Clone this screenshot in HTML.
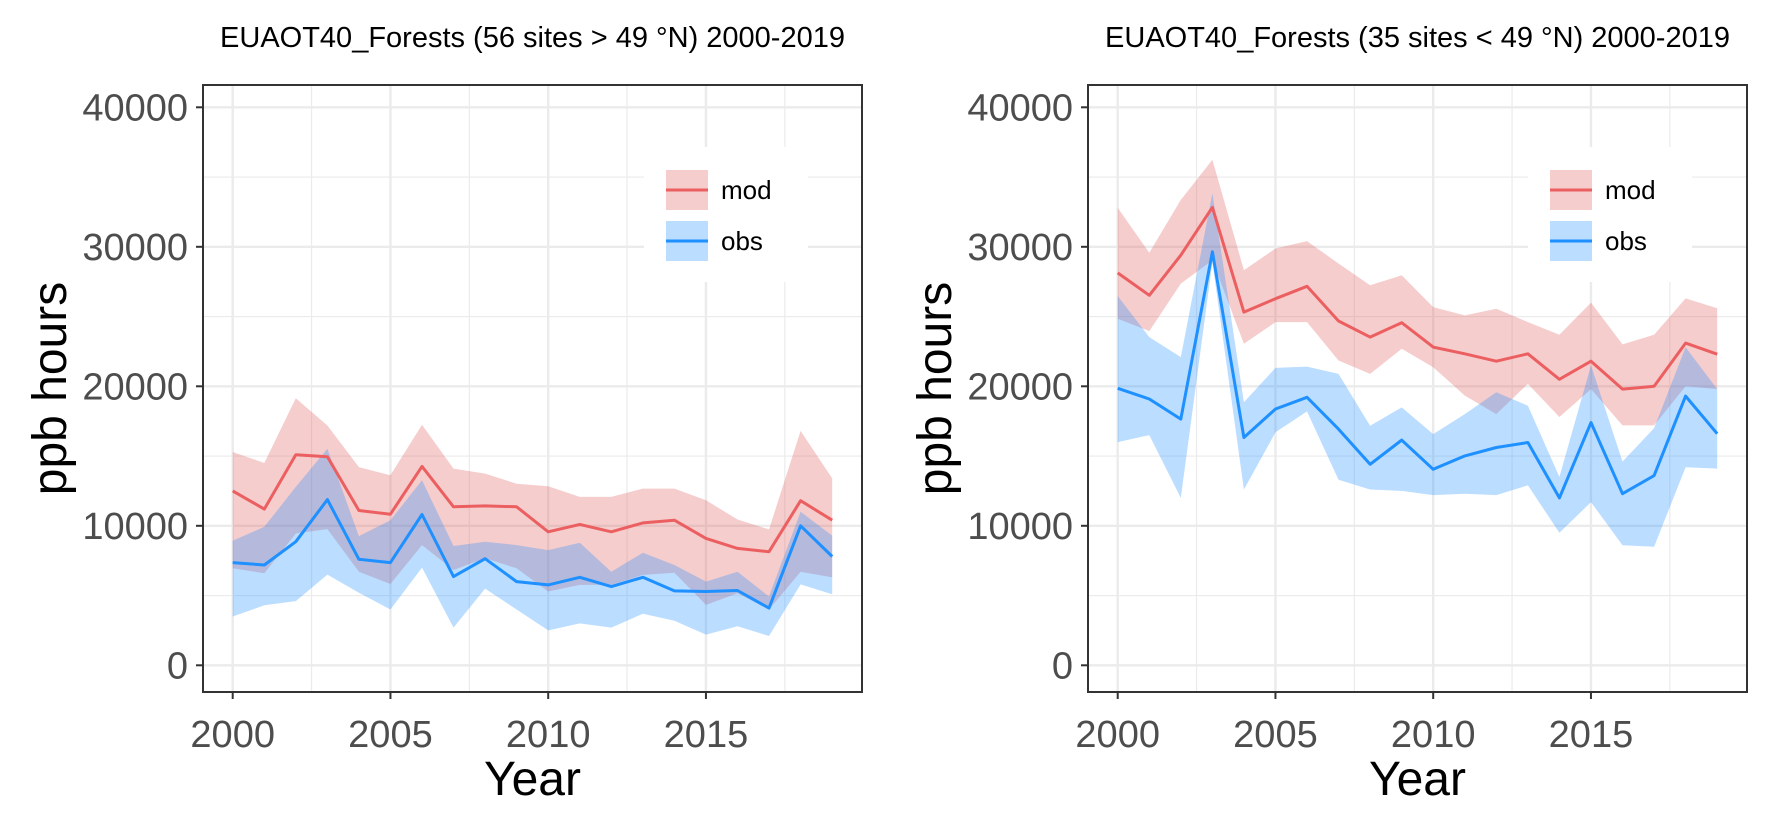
<!DOCTYPE html>
<html><head><meta charset="utf-8">
<style>
html,body{margin:0;padding:0;background:#fff;}
svg{display:block;font-family:"Liberation Sans",Arial,sans-serif;}
</style></head>
<body>
<svg id="chart" width="1771" height="826" viewBox="0 0 1771 826" xmlns="http://www.w3.org/2000/svg">
<rect width="1771" height="826" fill="#fff"/>
</svg>
<script>
const years = [2000,2001,2002,2003,2004,2005,2006,2007,2008,2009,2010,2011,2012,2013,2014,2015,2016,2017,2018,2019];
const xTicks = [2000,2005,2010,2015];
const yTicks = [0,10000,20000,30000,40000];
const yTickLabels = ["0","10000","20000","30000","40000"];

// Left panel (> 49 N)
const leftModMid = [12500,11200,15100,14950,11100,10830,14260,11360,11430,11360,9570,10100,9570,10210,10400,9100,8380,8140,11800,10400];
const leftModUpper = [15290,14500,19140,17190,14210,13620,17240,14100,13740,13020,12830,12070,12070,12670,12670,11830,10450,9740,16800,13400];
const leftModLower = [6950,6600,9450,9760,6710,5830,8620,6830,7670,6950,5290,5760,5760,6480,6640,4330,5170,4000,6700,6300];
const leftObsMid = [7360,7190,8860,11880,7600,7360,10810,6360,7640,6000,5760,6310,5640,6310,5330,5290,5360,4100,10000,7800];
const leftObsUpper = [8930,9930,12790,15520,9260,10400,13260,8550,8860,8620,8260,8790,6710,8070,7190,6000,6710,4930,11000,9300];
const leftObsLower = [3500,4300,4600,6500,5200,4000,7000,2700,5500,4000,2500,3000,2700,3700,3200,2200,2800,2100,5800,5100];

// Right panel (< 49 N)
const rightModMid = [28130,26520,29400,32830,25320,26280,27170,24680,23530,24560,22810,22330,21800,22330,20500,21800,19800,20000,23100,22300];
const rightModUpper = [32800,29570,33360,36240,28320,29880,30410,28800,27240,27960,25680,25080,25560,24600,23700,26000,23000,23700,26300,25600];
const rightModLower = [24840,23960,27360,29040,23050,24600,24600,21850,20890,22690,21370,19330,18010,20170,17800,19800,17200,17200,20000,19800];
const rightObsMid = [19860,19090,17650,29640,16330,18370,19210,16930,14410,16140,14050,15010,15610,15970,12000,17400,12300,13600,19300,16600];
const rightObsUpper = [26470,23530,22090,33840,18850,21320,21410,20890,17170,18490,16570,18010,19570,18610,13500,21500,14600,17000,22800,19800];
const rightObsLower = [16000,16500,12000,28900,12600,16700,18200,13300,12600,12500,12200,12300,12200,12900,9500,11700,8600,8500,14200,14100];

const NS = "http://www.w3.org/2000/svg";
const svg = document.getElementById('chart');
function mk(tag, attrs, parent){
  const e = document.createElementNS(NS, tag);
  for (const k in attrs) e.setAttribute(k, attrs[k]);
  (parent||svg).appendChild(e);
  return e;
}

function panel(opts){
  const L = opts.left, R = opts.left + 659, T = 85, B = 692;
  const x0 = L + 29.7, pxYear = 31.55;
  const xs = v => x0 + (v - 2000) * pxYear;
  const ys = v => 665.3 - v * 0.01395;
  const g = mk('g', {});
  
  

  [2002.5,2007.5,2012.5,2017.5].forEach(v=>{
    const l = mk('line',{x1:xs(v),x2:xs(v),y1:T,y2:B,stroke:'#ebebeb','stroke-width':1.2},g);
    
    
  });
  [5000,15000,25000,35000].forEach(v=>{
    const l = mk('line',{x1:L,x2:R,y1:ys(v),y2:ys(v),stroke:'#ebebeb','stroke-width':1.2},g);
    
    
  });
  xTicks.forEach(v=>{
    const l = mk('line',{x1:xs(v),x2:xs(v),y1:T,y2:B,stroke:'#ebebeb','stroke-width':2.4},g);
    
    
  });
  yTicks.forEach(v=>{
    const l = mk('line',{x1:L,x2:R,y1:ys(v),y2:ys(v),stroke:'#ebebeb','stroke-width':2.4},g);
    
    
  });

  function ribbon(up, lo, fill, name){
    let d = '';
    years.forEach((yr,i)=>{ d += (i?'L':'M') + xs(yr).toFixed(1) + ',' + ys(up[i]).toFixed(1); });
    for (let i = years.length-1; i >= 0; i--) d += 'L' + xs(years[i]).toFixed(1) + ',' + ys(lo[i]).toFixed(1);
    d += 'Z';
    const p = mk('path',{d:d,fill:fill,'fill-opacity':0.3,stroke:'none'},g);
    
    
  }
  function line(vals, col, name){
    const pts = years.map((yr,i)=> xs(yr).toFixed(1)+','+ys(vals[i]).toFixed(1)).join(' ');
    const p = mk('polyline',{points:pts,fill:'none',stroke:col,'stroke-width':3,'stroke-linejoin':'round'},g);
    
    
  }
  ribbon(opts.modU, opts.modL, '#e05a5a', 'mod-ribbon');
  ribbon(opts.obsU, opts.obsL, '#1e90ff', 'obs-ribbon');
  line(opts.modM, '#ec5f61', 'mod-line');
  line(opts.obsM, '#1e90ff', 'obs-line');

  const lg = mk('g',{},g);
  
  
  const lx = opts.legX;
  mk('rect',{x:lx-22,y:147,width:164,height:135,fill:'#fff'},lg);
  [['mod','#e05a5a','#ec5f61',190],['obs','#1e90ff','#1e90ff',241]].forEach(e=>{
    const eg = mk('g',{},lg);
    
    
    mk('rect',{x:lx,y:e[3]-20,width:42,height:40,fill:e[1],'fill-opacity':0.3},eg);
    mk('line',{x1:lx,x2:lx+42,y1:e[3],y2:e[3],stroke:e[2],'stroke-width':3},eg);
    const t = mk('text',{x:lx+55,y:e[3]+9,'font-size':26,fill:'#000'},eg);
    t.textContent = e[0];
  });

  const fr = mk('rect',{x:L,y:T,width:R-L,height:B-T,fill:'none',stroke:'#333','stroke-width':2},g);
  
  

  yTicks.forEach((v,i)=>{
    mk('line',{x1:L-7,x2:L,y1:ys(v),y2:ys(v),stroke:'#333','stroke-width':2},g);
    const t = mk('text',{x:L-15,y:ys(v)+13,'font-size':38,fill:'#4d4d4d','text-anchor':'end'},g);
    
    
    t.textContent = yTickLabels[i];
  });
  xTicks.forEach(v=>{
    mk('line',{x1:xs(v),x2:xs(v),y1:B,y2:B+7,stroke:'#333','stroke-width':2},g);
    const t = mk('text',{x:xs(v),y:B+55,'font-size':38,fill:'#4d4d4d','text-anchor':'middle'},g);
    
    
    t.textContent = String(v);
  });
  const tt = mk('text',{x:(L+R)/2,y:47,'font-size':29,fill:'#000','text-anchor':'middle'},g);
  
  
  tt.textContent = opts.title;
  const xt = mk('text',{x:(L+R)/2,y:795,'font-size':48,fill:'#000','text-anchor':'middle'},g);
  
  
  xt.textContent = 'Year';
  const yx = L - 137, yy = (T+B)/2;
  const yt = mk('text',{x:yx,y:yy,'font-size':48,fill:'#000','text-anchor':'middle',transform:'rotate(-90 '+yx+' '+yy+')'},g);
  
  
  yt.textContent = 'ppb hours';
}

panel({name:'left-panel', left:203, legX:666,
  title:'EUAOT40_Forests (56 sites > 49 \u00B0N) 2000-2019',
  modM:leftModMid, modU:leftModUpper, modL:leftModLower,
  obsM:leftObsMid, obsU:leftObsUpper, obsL:leftObsLower});
panel({name:'right-panel', left:1088, legX:1550,
  title:'EUAOT40_Forests (35 sites < 49 \u00B0N) 2000-2019',
  modM:rightModMid, modU:rightModUpper, modL:rightModLower,
  obsM:rightObsMid, obsU:rightObsUpper, obsL:rightObsLower});
</script>
</body></html>
